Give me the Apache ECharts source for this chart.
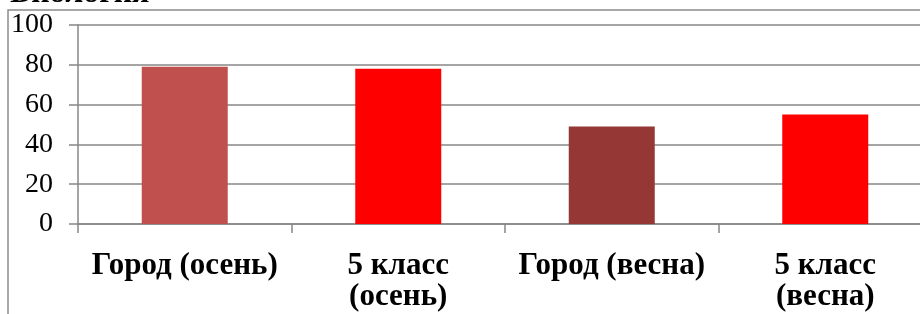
<!DOCTYPE html>
<html>
<head>
<meta charset="utf-8">
<script src="https://cdn.jsdelivr.net/npm/echarts@6/dist/echarts.min.js"></script>
<style>html,body{margin:0;padding:0;background:#fff;overflow:hidden;width:920px;height:314px}#c{width:932px;height:314px}</style>
</head>
<body>
<div id="c"></div>
<script>
var titleText = "Биология";
var categories = ["Город (осень)", "5 класс\n(осень)", "Город (весна)", "5 класс\n(весна)"];
var values = [79, 78, 49, 55];
var barColors = ["#C0504D", "#FF0000", "#953735", "#FF0000"];
var yTicks = [0, 20, 40, 60, 80, 100];

var chart = echarts.init(document.getElementById('c'), null, {renderer: 'canvas'});
var gridColor = '#878787';
chart.setOption({
  animation: false,
  backgroundColor: '#fff',
  grid: {left: 78, top: 25, bottom: 90, right: 0, containLabel: false},
  graphic: [
    {type: 'rect', z: 100, silent: true, shape: {x: 8, y: 10, width: 1000, height: 400},
     style: {fill: 'none', stroke: '#8c8c8c', lineWidth: 1.5}},
    {type: 'text', z: 100, style: {x: 10, y: 10, text: titleText, fill: '#000',
     font: 'bold 32px "Liberation Serif"', verticalAlign: 'bottom'}}
  ],
  xAxis: {
    type: 'category',
    data: categories,
    axisLine: {show: true, lineStyle: {color: gridColor, width: 1.5}},
    axisTick: {show: true, length: 9, alignWithLabel: false, lineStyle: {color: gridColor, width: 1.5}},
    axisLabel: {interval: 0, margin: 26, color: '#000', fontFamily: 'Liberation Serif',
      fontWeight: 'bold', fontSize: 31, lineHeight: 31}
  },
  yAxis: {
    type: 'value', min: yTicks[0], max: yTicks[yTicks.length - 1], interval: 20,
    axisLine: {show: true, lineStyle: {color: gridColor, width: 1.5}},
    axisTick: {show: true, length: 9, lineStyle: {color: gridColor, width: 1.5}},
    splitLine: {show: true, lineStyle: {color: gridColor, width: 1.5}},
    axisLabel: {margin: 25, color: '#000', fontFamily: 'Liberation Serif', fontSize: 28}
  },
  series: [{
    type: 'bar',
    barWidth: 86,
    data: values.map(function (v, i) { return {value: v, itemStyle: {color: barColors[i]}}; })
  }]
});
</script>
</body>
</html>
